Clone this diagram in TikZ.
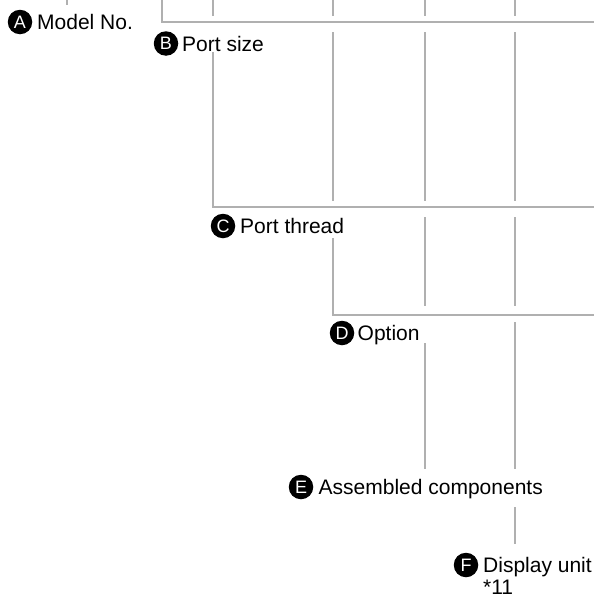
\documentclass[tikz,border=0pt]{standalone}
\usepackage{fontspec}
\setmainfont{Liberation Sans}
\begin{document}
\begin{tikzpicture}[x=1pt,y=-1pt,
  badge/.style={circle,fill=black,inner sep=0pt,minimum size=24.5pt,text=white,font=\fontsize{18}{18}\selectfont},
  lbl/.style={anchor=base west,inner sep=0pt,font=\fontsize{21}{24}\selectfont},
  ln/.style={draw=gray!62,line width=2.6pt}]
\useasboundingbox (0,0) rectangle (594,597);
% badges
\node[badge] (cA) at (20,22) {A};
\node[badge] (cB) at (166,43.5) {B};
\node[badge] (cC) at (223,226) {C};
\node[badge] (cD) at (342,333) {D};
\node[badge] (cE) at (301,487) {E};
\node[badge] (cF) at (466,565) {F};
% labels
\node[lbl] (tA) at (37,29.5) {Model No.};
\node[lbl] (tB) at (182,51) {Port size};
\node[lbl] (tC) at (240,233.5) {Port thread};
\node[lbl] (tD) at (357.5,340.5) {Option};
\node[lbl] (tE) at (318.5,494.5) {Assembled components};
\node[lbl] (tF) at (483,572) {Display unit};
\node[lbl] (tN) at (483,594) {*11};
% line end points
\coordinate (a0) at (67,0);   \coordinate (a1) at (67,5);
\coordinate (b0) at (162,0);  \coordinate (b1) at (162,22);  \coordinate (b2) at (594,22);
\coordinate (c0) at (213,0);  \coordinate (c1) at (213,16);
\coordinate (c2) at (213,52); \coordinate (c3) at (213,207); \coordinate (c4) at (594,207);
\coordinate (d0) at (333,0);  \coordinate (d1) at (333,16);
\coordinate (d2) at (333,32); \coordinate (d3) at (333,201);
\coordinate (d4) at (333,238);\coordinate (d5) at (333,315); \coordinate (d6) at (594,315);
\coordinate (e0) at (425,0);  \coordinate (e1) at (425,16);
\coordinate (e2) at (425,32); \coordinate (e3) at (425,201);
\coordinate (e4) at (425,217);\coordinate (e5) at (425,306);
\coordinate (e6) at (425,343);\coordinate (e7) at (425,469);
\coordinate (f0) at (515,0);  \coordinate (f1) at (515,16);
\coordinate (f2) at (515,32); \coordinate (f3) at (515,201);
\coordinate (f4) at (515,217);\coordinate (f5) at (515,306);
\coordinate (f6) at (515,322);\coordinate (f7) at (515,469);
\coordinate (f8) at (515,507);\coordinate (f9) at (515,544);
% lines
\draw[ln] (a0) -- (a1);
\draw[ln] (b0) -- (b1) -- (b2);
\draw[ln] (c0) -- (c1);
\draw[ln] (c2) -- (c3) -- (c4);
\draw[ln] (d0) -- (d1);
\draw[ln] (d2) -- (d3);
\draw[ln] (d4) -- (d5) -- (d6);
\draw[ln] (e0) -- (e1);
\draw[ln] (e2) -- (e3);
\draw[ln] (e4) -- (e5);
\draw[ln] (e6) -- (e7);
\draw[ln] (f0) -- (f1);
\draw[ln] (f2) -- (f3);
\draw[ln] (f4) -- (f5);
\draw[ln] (f6) -- (f7);
\draw[ln] (f8) -- (f9);
\end{tikzpicture}
\end{document}
